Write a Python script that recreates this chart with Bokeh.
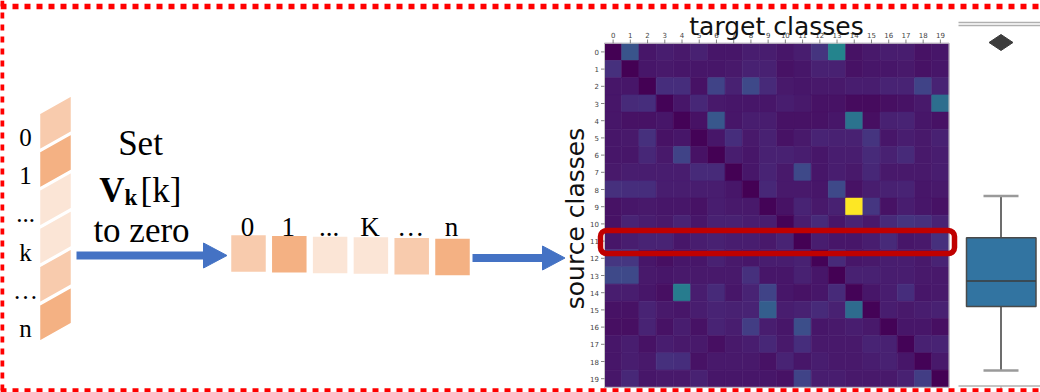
import math
from bokeh.plotting import figure
from bokeh.models import Range1d, LinearColorMapper, ColumnDataSource, BoxAnnotation
from bokeh.palettes import Viridis256
from bokeh.core.properties import value
from bokeh.embed import file_html
from bokeh.resources import INLINE

# ---------------- data ----------------
stack_labels = ["0", "1", "...", "k", "\u2026", "n"]
stack_colors = ["#f8cbad", "#f4b183", "#fbe5d6", "#fbe5d6", "#f8cbad", "#f4b183"]
vector_labels = ["0", "1", "...", "K", "\u2026", "n"]
vector_colors = ["#f8cbad", "#f4b183", "#fbe5d6", "#fbe5d6", "#f8cbad", "#f4b183"]
class_ticks = ["0", "1", "2", "3", "4", "5", "6", "7", "8", "9",
               "10", "11", "12", "13", "14", "15", "16", "17", "18", "19"]

row00 = [0.00, 0.26, 0.06, 0.08, 0.07, 0.09, 0.06, 0.06, 0.08, 0.08, 0.06, 0.08, 0.15, 0.45, 0.05, 0.07, 0.08, 0.08, 0.05, 0.06]
row01 = [0.14, 0.00, 0.06, 0.07, 0.06, 0.06, 0.06, 0.07, 0.09, 0.09, 0.05, 0.06, 0.09, 0.09, 0.05, 0.06, 0.06, 0.07, 0.05, 0.06]
row02 = [0.06, 0.06, 0.00, 0.13, 0.13, 0.05, 0.20, 0.09, 0.22, 0.12, 0.07, 0.06, 0.07, 0.07, 0.08, 0.08, 0.10, 0.10, 0.20, 0.10]
row03 = [0.06, 0.12, 0.13, 0.01, 0.06, 0.11, 0.07, 0.06, 0.06, 0.06, 0.08, 0.07, 0.05, 0.05, 0.03, 0.03, 0.04, 0.05, 0.07, 0.36]
row04 = [0.06, 0.05, 0.05, 0.06, 0.01, 0.05, 0.27, 0.06, 0.08, 0.08, 0.05, 0.05, 0.05, 0.06, 0.38, 0.04, 0.09, 0.10, 0.06, 0.05]
row05 = [0.06, 0.07, 0.14, 0.05, 0.06, 0.01, 0.06, 0.13, 0.07, 0.09, 0.05, 0.07, 0.10, 0.09, 0.09, 0.15, 0.06, 0.08, 0.07, 0.09]
row06 = [0.06, 0.06, 0.11, 0.07, 0.20, 0.05, 0.00, 0.08, 0.06, 0.09, 0.09, 0.08, 0.06, 0.08, 0.08, 0.12, 0.09, 0.12, 0.07, 0.08]
row07 = [0.07, 0.08, 0.08, 0.08, 0.08, 0.12, 0.12, 0.00, 0.06, 0.10, 0.07, 0.22, 0.06, 0.08, 0.07, 0.11, 0.07, 0.07, 0.07, 0.08]
row08 = [0.14, 0.13, 0.13, 0.08, 0.08, 0.08, 0.08, 0.06, 0.00, 0.11, 0.07, 0.07, 0.06, 0.22, 0.05, 0.08, 0.09, 0.10, 0.06, 0.07]
row09 = [0.05, 0.06, 0.07, 0.06, 0.06, 0.05, 0.08, 0.07, 0.07, 0.01, 0.05, 0.10, 0.07, 0.09, 1.00, 0.16, 0.05, 0.08, 0.06, 0.05]
row10 = [0.05, 0.10, 0.08, 0.07, 0.10, 0.06, 0.09, 0.09, 0.08, 0.08, 0.01, 0.08, 0.12, 0.06, 0.10, 0.07, 0.12, 0.15, 0.14, 0.10]
row11 = [0.06, 0.08, 0.10, 0.10, 0.06, 0.08, 0.09, 0.08, 0.08, 0.07, 0.10, 0.00, 0.08, 0.06, 0.06, 0.08, 0.12, 0.06, 0.07, 0.14]
row12 = [0.16, 0.16, 0.06, 0.04, 0.06, 0.06, 0.09, 0.07, 0.06, 0.08, 0.08, 0.09, 0.01, 0.12, 0.06, 0.07, 0.08, 0.08, 0.07, 0.10]
row13 = [0.22, 0.22, 0.07, 0.06, 0.07, 0.07, 0.07, 0.07, 0.14, 0.06, 0.06, 0.09, 0.06, 0.00, 0.09, 0.09, 0.08, 0.08, 0.07, 0.07]
row14 = [0.08, 0.08, 0.06, 0.04, 0.42, 0.08, 0.12, 0.06, 0.10, 0.20, 0.06, 0.05, 0.06, 0.12, 0.01, 0.06, 0.08, 0.13, 0.06, 0.07]
row15 = [0.05, 0.05, 0.10, 0.07, 0.06, 0.08, 0.10, 0.09, 0.10, 0.30, 0.08, 0.09, 0.12, 0.09, 0.35, 0.01, 0.08, 0.07, 0.08, 0.09]
row16 = [0.04, 0.04, 0.10, 0.05, 0.08, 0.05, 0.10, 0.08, 0.18, 0.08, 0.06, 0.24, 0.06, 0.07, 0.08, 0.07, 0.01, 0.06, 0.06, 0.04]
row17 = [0.06, 0.08, 0.05, 0.08, 0.07, 0.07, 0.04, 0.07, 0.08, 0.11, 0.07, 0.13, 0.07, 0.07, 0.07, 0.10, 0.09, 0.01, 0.09, 0.10]
row18 = [0.06, 0.08, 0.07, 0.14, 0.13, 0.05, 0.07, 0.07, 0.07, 0.05, 0.10, 0.06, 0.08, 0.07, 0.07, 0.08, 0.09, 0.06, 0.01, 0.07]
row19 = [0.06, 0.11, 0.06, 0.07, 0.07, 0.09, 0.06, 0.06, 0.06, 0.06, 0.05, 0.20, 0.08, 0.08, 0.07, 0.07, 0.07, 0.09, 0.18, 0.00]
heatmap_rows = [row00, row01, row02, row03, row04, row05, row06, row07, row08, row09,
                row10, row11, row12, row13, row14, row15, row16, row17, row18, row19]
highlight_row = 11

box_whisker_low = 0.00
box_q1 = 0.40
box_median = 0.56
box_q3 = 0.83
box_whisker_high = 1.09
box_outliers = [2.05]

# ---------------- canvas (pixel-like coordinates) ----------------
W, H = 1040, 392


def lin_range(p0, v0, p1, v1, lo, hi):
    s = (v1 - v0) / (p1 - p0)
    return Range1d(start=v0 + (lo - p0) * s, end=v0 + (hi - p0) * s)


p = figure(width=W, height=H, x_range=Range1d(0, W), y_range=Range1d(H, 0),
           x_axis_type=None, y_axis_type=None, toolbar_location=None,
           output_backend="svg", min_border=0, outline_line_color=None,
           background_fill_color="white", border_fill_color="white")
p.grid.visible = False

# heatmap placement: cells 0..19 spanning 604..948.5 (x) and 42.8..386.8 (y)
HX0, HX1, HY0, HY1 = 604.0, 948.5, 42.8, 386.8
p.extra_x_ranges = {"hx": lin_range(HX0, -0.5, HX1, 19.5, 0, W)}
p.extra_y_ranges = {"hy": lin_range(HY1, 19.5, HY0, -0.5, H, 0),
                    "by": lin_range(370, 0.0, 210, 1.0, H, 0)}

serif = value("Liberation Serif")
sans = value("DejaVu Sans")

# ---------------- left stack ----------------
xs, ys = [], []
for i in range(len(stack_labels)):
    t = 113 + 38.3 * i
    xs.append([39, 71, 71, 39])
    ys.append([t, t - 18, t - 18 + 36.3, t + 36.3])
p.patches(xs=xs, ys=ys, fill_color=stack_colors, line_color="white", line_width=1.5)
p.text(x=[25] * len(stack_labels), y=[137 + 38.2 * i for i in range(len(stack_labels))],
       text=stack_labels, text_font=serif, text_font_size="25px", text_color="black",
       text_align="center", text_baseline="alphabetic")

# Set V_k[k] to zero
p.text(x=[140], y=[143], text=["Set"], text_font=serif, text_font_size="35px",
       text_align="center", text_baseline="alphabetic", text_color="black")
p.text(x=[124], y=[190], text=["V"], text_font=serif, text_font_size="35px",
       text_font_style="bold", text_align="right", text_baseline="alphabetic", text_color="black")
p.text(x=[124], y=[197], text=["k"], text_font=serif, text_font_size="23px",
       text_font_style="bold", text_align="left", text_baseline="alphabetic", text_color="black")
p.text(x=[140], y=[190], text=["[k]"], text_font=serif, text_font_size="35px",
       text_align="left", text_baseline="alphabetic", text_color="black")
p.text(x=[141], y=[230], text=["to zero"], text_font=serif, text_font_size="35px",
       text_align="center", text_baseline="alphabetic", text_color="black")

# arrows
BLUE = "#4472c4"
p.segment(x0=[76, 472], y0=[255, 257.5], x1=[205, 544], y1=[255, 257.5], line_color=BLUE, line_width=8)
p.patches(xs=[[203, 203, 226.5], [542, 542, 564.5]], ys=[[242.5, 267.5, 255], [245.5, 269.5, 257.5]],
          fill_color=BLUE, line_color=BLUE)

# vector boxes
bx = [230 + 40.8 * i for i in range(len(vector_labels))]
p.quad(left=bx, right=[b + 36 for b in bx], top=[234 + 0.7 * i for i in range(6)],
       bottom=[272 + 0.7 * i for i in range(6)],
       fill_color=vector_colors, line_color="white", line_width=1.5)
p.text(x=[b + 17 for b in bx], y=[226] * 6, text=vector_labels, text_font=serif,
       text_font_size="27px", text_align="center", text_baseline="alphabetic", text_color="black")

# ---------------- heatmap ----------------
hm_x, hm_y, hm_v = [], [], []
for r, row in enumerate(heatmap_rows):
    for c, v in enumerate(row):
        hm_x.append(c)
        hm_y.append(r)
        hm_v.append(v)
src = ColumnDataSource(dict(x=hm_x, y=hm_y, v=hm_v))
mapper = LinearColorMapper(palette=Viridis256, low=0, high=1)
p.rect(x="x", y="y", width=1, height=1, source=src,
       fill_color={"field": "v", "transform": mapper},
       line_color={"field": "v", "transform": mapper}, line_width=0.6,
       x_range_name="hx", y_range_name="hy")
p.rect(x=[9.5], y=[9.5], width=20, height=20, fill_color=None, line_color="#c8c8c8",
       line_width=1, x_range_name="hx", y_range_name="hy")

n = len(class_ticks)
idx = list(range(n))
p.text(x=idx, y=[34] * n, text=class_ticks, text_font=sans, text_font_size="7px",
       text_color="#444444", text_align="center", text_baseline="middle", x_range_name="hx")
p.segment(x0=idx, x1=idx, y0=[39] * n, y1=[42.8] * n, line_color="#666666",
          line_width=0.8, x_range_name="hx")
p.text(x=[598.5] * n, y=idx, text=class_ticks, text_font=sans, text_font_size="7px",
       text_color="#444444", text_align="right", text_baseline="middle", y_range_name="hy")
p.segment(x0=[600.5] * n, x1=[604] * n, y0=idx, y1=idx, line_color="#666666",
          line_width=0.8, y_range_name="hy")

p.text(x=[776], y=[26], text=["target classes"], text_font=sans, text_font_size="25px",
       text_align="center", text_baseline="alphabetic", text_color="#111111")
p.text(x=[575], y=[218], text=["source classes"], text_font=sans, text_font_size="25px",
       text_align="center", text_baseline="alphabetic", text_color="#111111", angle=math.pi / 2)

# highlight of the removed class row
p.add_layout(BoxAnnotation(left=600, right=954,
                           top=highlight_row - 0.5 - 0.12, bottom=highlight_row + 0.5 + 0.22,
                           y_range_name="hy",
                           fill_color=None, fill_alpha=0, line_color="#c00000", line_alpha=1.0,
                           line_width=5.5, border_radius=6))

# ---------------- box plot ----------------
BOXC = 1000.5
GREY = "#3d3d3d"
p.segment(x0=[958, 958], x1=[1040, 1040], y0=[22, 25], y1=[22, 25], line_color="#b0b0b0", line_width=1.3)
p.segment(x0=[958, 1000.5], x1=[1040, 1000.5], y0=[385.5, 385.5], y1=[385.5, 392],
          line_color="#b0b0b0", line_width=1.3)
p.segment(x0=[BOXC, BOXC, 983, 983], x1=[BOXC, BOXC, 1018, 1018],
          y0=[box_q3, box_q1, box_whisker_high, box_whisker_low],
          y1=[box_whisker_high, box_whisker_low, box_whisker_high, box_whisker_low],
          line_color=[GREY, GREY, "#9a9a9a", "#9a9a9a"], line_width=[1.5, 1.5, 2.5, 2.5],
          y_range_name="by")
p.quad(left=[966], right=[1035.5], bottom=[box_q1], top=[box_q3], fill_color="#3274a1",
       line_color="#4a4a4a", line_width=1.5, y_range_name="by")
p.segment(x0=[966], x1=[1035.5], y0=[box_median], y1=[box_median], line_color=GREY,
          line_width=1.5, y_range_name="by")
p.scatter(x=[BOXC] * len(box_outliers), y=box_outliers, marker="diamond", size=24,
          angle=math.pi / 2, fill_color=GREY, line_color=GREY, y_range_name="by")

# ---------------- red dashed frame ----------------
RED = "#ff0000"
p.segment(x0=[0, 0, 1], x1=[1040, 1040, 1], y0=[6, 390.5, 0], y1=[6, 390.5, 392],
          line_color=RED, line_width=5.5, line_dash="6 6")

open("out.html", "w").write(file_html(p, INLINE))
